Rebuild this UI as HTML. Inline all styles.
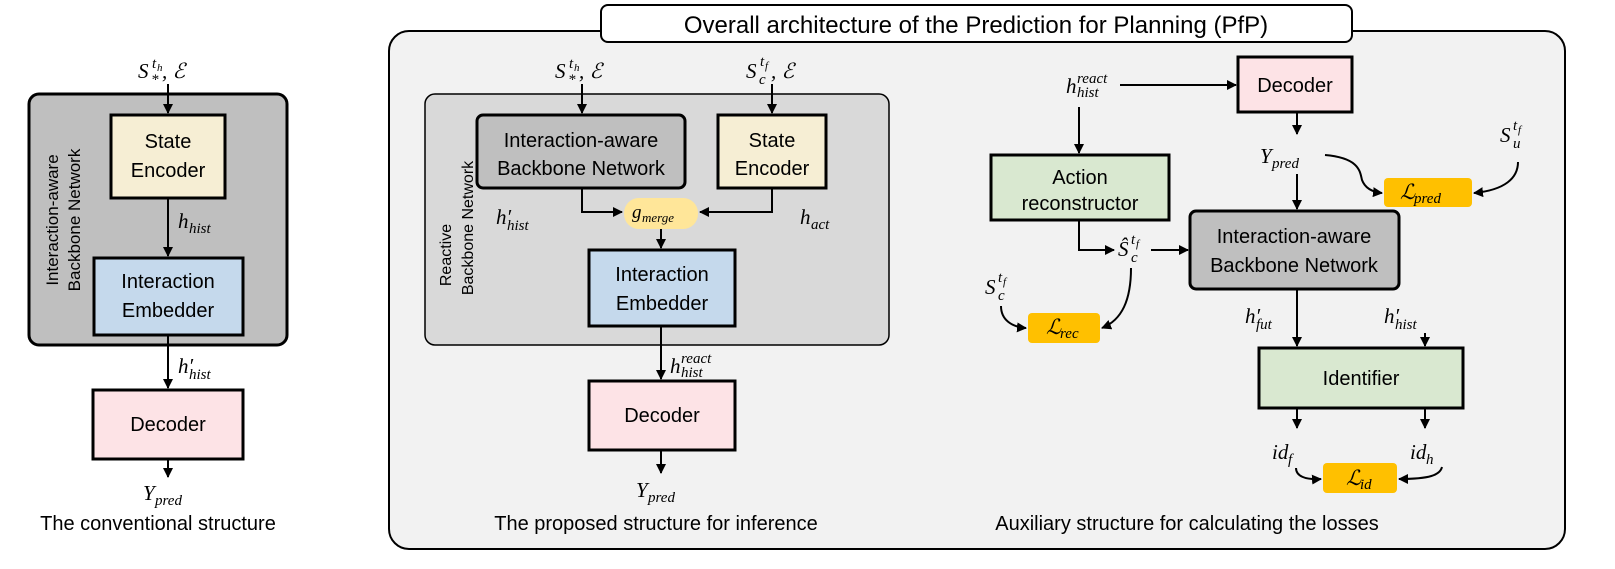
<!DOCTYPE html>
<html><head><meta charset="utf-8"><style>
html,body{margin:0;padding:0;background:#fff}
svg{display:block}
.t{font-family:"Liberation Sans",sans-serif;font-size:19px;fill:#000}
.m{font-family:"Liberation Serif",serif;font-style:italic;font-size:21px;fill:#000}
.s{font-family:"Liberation Serif",serif;font-style:italic;font-size:15px;fill:#000}
.ss{font-family:"Liberation Serif",serif;font-style:italic;font-size:11px;fill:#000}
</style></head><body>
<svg width="1615" height="569" viewBox="0 0 1615 569" xmlns="http://www.w3.org/2000/svg">
<defs><marker id="a" markerWidth="10" markerHeight="10" refX="9" refY="5" orient="auto" markerUnits="userSpaceOnUse"><path d="M0,0 L10,5 L0,10 z" fill="#000"/></marker></defs>

<!-- LEFT -->
<rect x="29" y="94" width="258" height="251" rx="10" fill="#bfbfbf" stroke="#000" stroke-width="3"/>
<text class="t" transform="translate(58,220) rotate(-90)" text-anchor="middle" style="font-size:17px">Interaction-aware</text>
<text class="t" transform="translate(80,220) rotate(-90)" text-anchor="middle" style="font-size:17px">Backbone Network</text>
<rect x="111" y="115" width="114" height="83" fill="#f6eed4" stroke="#000" stroke-width="3"/>
<text class="t" x="168" y="148" text-anchor="middle" style="font-size:20px">State</text>
<text class="t" x="168" y="177" text-anchor="middle" style="font-size:20px">Encoder</text>
<rect x="94" y="258" width="149" height="77" fill="#c5d9ec" stroke="#000" stroke-width="3"/>
<text class="t" x="168" y="288" text-anchor="middle" style="font-size:20px">Interaction</text>
<text class="t" x="168" y="317" text-anchor="middle" style="font-size:20px">Embedder</text>
<rect x="93" y="390" width="150" height="69" fill="#fde3e6" stroke="#000" stroke-width="3"/>
<text class="t" x="168" y="431" text-anchor="middle" style="font-size:20px">Decoder</text>
<g stroke="#000" stroke-width="2" fill="none" marker-end="url(#a)">
<line x1="168" y1="84" x2="168" y2="113"/>
<line x1="168" y1="198" x2="168" y2="256"/>
<line x1="168" y1="335" x2="168" y2="388"/>
<line x1="168" y1="459" x2="168" y2="477"/>
</g>
<text class="m" x="138" y="78">S</text><text class="s" x="152" y="68">t</text><text class="ss" x="157" y="71">h</text><text class="s" x="151" y="84">*</text><text class="m" x="162" y="78">, ℰ</text>
<text class="m" x="178" y="228">h</text><text class="s" x="189" y="233">hist</text>
<text class="m" x="178" y="373">h′</text><text class="s" x="189" y="379">hist</text>
<text class="m" x="143" y="500">Y</text><text class="s" x="155" y="505">pred</text>
<text class="t" x="158" y="530" text-anchor="middle" style="font-size:20px">The conventional structure</text>

<!-- BIG PANEL -->
<rect x="389" y="31" width="1176" height="518" rx="20" fill="#f2f2f2" stroke="#000" stroke-width="2"/>
<rect x="601" y="5" width="751" height="37" rx="7" fill="#fff" stroke="#000" stroke-width="2"/>
<text class="t" x="976" y="33" text-anchor="middle" style="font-size:24px">Overall architecture of the Prediction for Planning (PfP)</text>

<!-- MIDDLE -->
<rect x="425" y="94" width="464" height="251" rx="10" fill="#d9d9d9" stroke="#000" stroke-width="1.5"/>
<text class="t" transform="translate(451,255) rotate(-90)" text-anchor="middle" style="font-size:16px">Reactive</text>
<text class="t" transform="translate(473,228) rotate(-90)" text-anchor="middle" style="font-size:16px">Backbone Network</text>
<rect x="477" y="115" width="208" height="73" rx="6" fill="#bfbfbf" stroke="#000" stroke-width="3"/>
<text class="t" x="581" y="147" text-anchor="middle" style="font-size:20px">Interaction-aware</text>
<text class="t" x="581" y="175" text-anchor="middle" style="font-size:20px">Backbone Network</text>
<rect x="718" y="115" width="108" height="73" fill="#f6eed4" stroke="#000" stroke-width="3"/>
<text class="t" x="772" y="147" text-anchor="middle" style="font-size:20px">State</text>
<text class="t" x="772" y="175" text-anchor="middle" style="font-size:20px">Encoder</text>
<rect x="624" y="198" width="74" height="31" rx="15" fill="#ffe699"/>
<text class="m" x="632" y="218" style="font-size:19px">g</text><text class="s" x="642" y="222" style="font-size:13px">merge</text>
<rect x="589" y="250" width="146" height="76" fill="#c5d9ec" stroke="#000" stroke-width="3"/>
<text class="t" x="662" y="281" text-anchor="middle" style="font-size:20px">Interaction</text>
<text class="t" x="662" y="310" text-anchor="middle" style="font-size:20px">Embedder</text>
<rect x="589" y="381" width="146" height="69" fill="#fde3e6" stroke="#000" stroke-width="3"/>
<text class="t" x="662" y="422" text-anchor="middle" style="font-size:20px">Decoder</text>
<g stroke="#000" stroke-width="2" fill="none" marker-end="url(#a)">
<line x1="582" y1="84" x2="582" y2="113"/>
<line x1="772" y1="84" x2="772" y2="113"/>
<polyline points="582,188 582,212 622,212"/>
<polyline points="772,188 772,212 700,212"/>
<line x1="661" y1="229" x2="661" y2="248"/>
<line x1="661" y1="326" x2="661" y2="379"/>
<line x1="661" y1="450" x2="661" y2="473"/>
</g>
<text class="m" x="555" y="78">S</text><text class="s" x="569" y="68">t</text><text class="ss" x="574" y="71">h</text><text class="s" x="568" y="84">*</text><text class="m" x="579" y="78">, ℰ</text>
<text class="m" x="746" y="78">S</text><text class="s" x="760" y="66">t</text><text class="ss" x="765" y="69">f</text><text class="s" x="759" y="84">c</text><text class="m" x="771" y="78">, ℰ</text>
<text class="m" x="496" y="224">h′</text><text class="s" x="507" y="230">hist</text>
<text class="m" x="800" y="224">h</text><text class="s" x="811" y="229">act</text>
<text class="m" x="670" y="373">h</text><text class="s" x="681" y="363">react</text><text class="s" x="681" y="377">hist</text>
<text class="m" x="636" y="497">Y</text><text class="s" x="648" y="502">pred</text>
<text class="t" x="656" y="530" text-anchor="middle" style="font-size:20px">The proposed structure for inference</text>

<!-- RIGHT -->
<rect x="1238" y="57" width="114" height="55" fill="#fde3e6" stroke="#000" stroke-width="3"/>
<text class="t" x="1295" y="92" text-anchor="middle" style="font-size:20px">Decoder</text>
<rect x="991" y="155" width="178" height="65" fill="#d9e8d0" stroke="#000" stroke-width="3"/>
<text class="t" x="1080" y="184" text-anchor="middle" style="font-size:20px">Action</text>
<text class="t" x="1080" y="210" text-anchor="middle" style="font-size:20px">reconstructor</text>
<rect x="1190" y="211" width="209" height="78" rx="6" fill="#bfbfbf" stroke="#000" stroke-width="3"/>
<text class="t" x="1294" y="243" text-anchor="middle" style="font-size:20px">Interaction-aware</text>
<text class="t" x="1294" y="272" text-anchor="middle" style="font-size:20px">Backbone Network</text>
<rect x="1384" y="178" width="88" height="29" rx="4" fill="#ffc000"/>
<text class="m" x="1400" y="199">ℒ</text><text class="s" x="1414" y="203">pred</text>
<rect x="1028" y="313" width="72" height="30" rx="4" fill="#ffc000"/>
<text class="m" x="1046" y="334">ℒ</text><text class="s" x="1060" y="338">rec</text>
<rect x="1259" y="348" width="204" height="60" fill="#d9e8d0" stroke="#000" stroke-width="3"/>
<text class="t" x="1361" y="385" text-anchor="middle" style="font-size:20px">Identifier</text>
<rect x="1323" y="463" width="74" height="30" rx="4" fill="#ffc000"/>
<text class="m" x="1346" y="485">ℒ</text><text class="s" x="1360" y="489">id</text>
<g stroke="#000" stroke-width="2" fill="none" marker-end="url(#a)">
<line x1="1120" y1="85" x2="1236" y2="85"/>
<line x1="1079" y1="107" x2="1079" y2="153"/>
<line x1="1297" y1="112" x2="1297" y2="134"/>
<polyline points="1079,220 1079,250 1114,250"/>
<line x1="1151" y1="250" x2="1188" y2="250"/>
<line x1="1297" y1="174" x2="1297" y2="209"/>
<path d="M1325,155 C1360,158 1360,172 1362,180 C1365,188 1372,192 1382,193"/>
<path d="M1518,162 C1518,178 1505,190 1474,193"/>
<path d="M1131,268 C1131,300 1122,320 1102,328"/>
<path d="M1001,306 C1001,320 1012,327 1026,328"/>
<line x1="1297" y1="289" x2="1297" y2="346"/>
<line x1="1425" y1="333" x2="1425" y2="346"/>
<line x1="1297" y1="408" x2="1297" y2="428"/>
<line x1="1425" y1="408" x2="1425" y2="428"/>
<path d="M1296,468 C1296,476 1305,480 1321,479"/>
<path d="M1442,467 C1440,475 1430,479 1399,479"/>
</g>
<text class="m" x="1066" y="93">h</text><text class="s" x="1077" y="83">react</text><text class="s" x="1077" y="97">hist</text>
<text class="m" x="1260" y="163">Y</text><text class="s" x="1272" y="168">pred</text>
<text class="m" x="1500" y="142">S</text><text class="s" x="1513" y="130">t</text><text class="ss" x="1518" y="133">f</text><text class="s" x="1513" y="148">u</text>
<text class="m" x="1118" y="256">Ŝ</text><text class="s" x="1131" y="244">t</text><text class="ss" x="1136" y="247">f</text><text class="s" x="1131" y="262">c</text>
<text class="m" x="985" y="294">S</text><text class="s" x="998" y="282">t</text><text class="ss" x="1003" y="285">f</text><text class="s" x="998" y="300">c</text>
<text class="m" x="1245" y="323">h′</text><text class="s" x="1256" y="329">fut</text>
<text class="m" x="1384" y="323">h′</text><text class="s" x="1395" y="329">hist</text>
<text class="m" x="1272" y="459">id</text><text class="s" x="1288" y="464">f</text>
<text class="m" x="1410" y="459">id</text><text class="s" x="1426" y="464">h</text>
<text class="t" x="1187" y="530" text-anchor="middle" style="font-size:20px">Auxiliary structure for calculating the losses</text>
</svg>
</body></html>
